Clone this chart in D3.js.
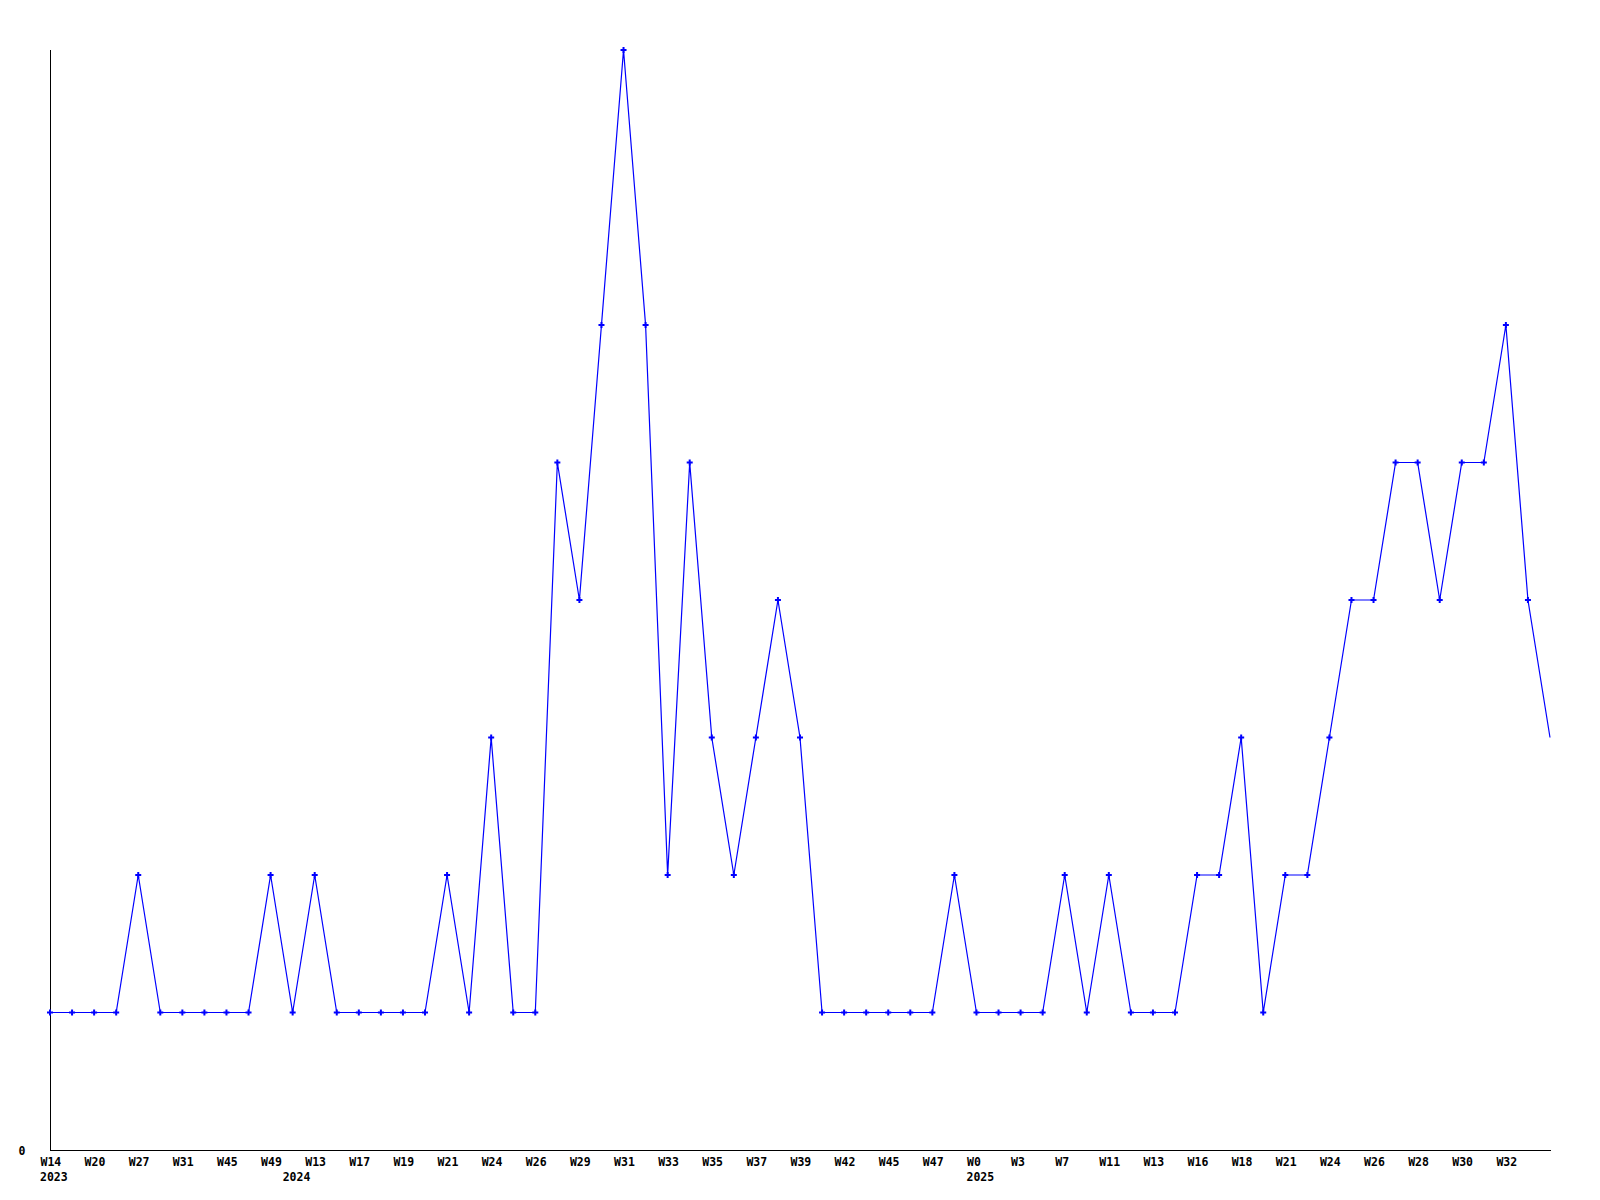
<!DOCTYPE html>
<html>
<head>
<meta charset="utf-8">
<script src="https://cdn.jsdelivr.net/npm/d3@7"></script>
<style>
  html, body { margin: 0; padding: 0; background: #fff; }
  svg text { font-family: "DejaVu Sans Mono", "Liberation Mono", monospace; font-weight: bold; font-size: 11.5px; fill: #000; }
</style>
</head>
<body>
<svg id="chart" width="1600" height="1200"></svg>
<script>
// Weekly counts (one per data point, in order)
const values = [
  1, 1, 1, 1, 2, 1, 1, 1, 1, 1,
  2, 1, 2, 1, 1, 1, 1, 1, 2, 1,
  3, 1, 1, 5, 4, 6, 8, 6, 2, 5,
  3, 2, 3, 4, 3, 1, 1, 1, 1, 1,
  1, 2, 1, 1, 1, 1, 2, 1, 2, 1,
  1, 1, 2, 2, 3, 1, 2, 2, 3, 4,
  4, 5, 5, 4, 5, 5, 6, 4, 3
];
// Week tick labels (shown on every second point)
const weekLabels = [
  "W14", "W20", "W27", "W31", "W45", "W49", "W13", "W17", "W19", "W21",
  "W24", "W26", "W29", "W31", "W33", "W35", "W37", "W39", "W42", "W45",
  "W47", "W0", "W3", "W7", "W11", "W13", "W16", "W18", "W21", "W24",
  "W26", "W28", "W30", "W32"
];
// Year labels and the point index where each year starts
const yearLabels = ["2023", "2024", "2025"];
const yearStarts = [0, 11, 42];
const yTickValues = [0];

const svg = d3.select("#chart");
const x = d3.scaleLinear().domain([0, values.length - 1]).range([50, 1550]);
const y = d3.scaleLinear().domain([0, 8]).range([1150, 50]);

// X axis
const tickIdx = weekLabels.map((d, i) => i * 2);
const xAxis = d3.axisBottom(x)
  .tickValues(tickIdx)
  .tickFormat((d, i) => weekLabels[i])
  .tickSize(0)
  .tickPadding(0);
const gx = svg.append("g").attr("transform", "translate(0,1150.5)").call(xAxis);
gx.select(".domain").attr("stroke", "#000").attr("stroke-width", 1).attr("d", "M50,0H1551");
gx.selectAll(".tick text")
  .attr("text-anchor", "start")
  .attr("x", -10)
  .attr("y", 15.5)
  .attr("dy", null)
  .attr("font-family", null).attr("font-size", null)
  .attr("fill", "#000");

// Year labels
svg.append("g").selectAll("text").data(yearLabels).join("text")
  .attr("x", (d, i) => x(yearStarts[i]) - 10)
  .attr("y", 1181)
  .text(d => d);

// Y axis
const yAxis = d3.axisLeft(y).tickValues(yTickValues).tickSize(0).tickPadding(0).tickFormat(d3.format("d"));
const gy = svg.append("g").attr("transform", "translate(50.5,0)").call(yAxis);
gy.select(".domain").attr("stroke", "#000").attr("stroke-width", 1).attr("d", "M0,50V1151");
gy.selectAll(".tick text")
  .attr("text-anchor", "end")
  .attr("x", -25)
  .attr("dy", "0.35em")
  .attr("font-family", null).attr("font-size", null)
  .attr("fill", "#000");

// Line
const line = d3.line().x((d, i) => x(i)).y(d => y(d));
svg.append("path")
  .datum(values)
  .attr("fill", "none")
  .attr("stroke", "#0000ff")
  .attr("stroke-width", 1.2)
  .attr("d", line);

// Markers (all but the last point)
svg.append("g").selectAll("path").data(values.slice(0, -1)).join("path")
  .attr("transform", (d, i) => `translate(${x(i)},${y(d)})`)
  .attr("d", d3.symbol().type(d3.symbolCross).size(20))
  .attr("fill", "#0000ff");
</script>
</body>
</html>
